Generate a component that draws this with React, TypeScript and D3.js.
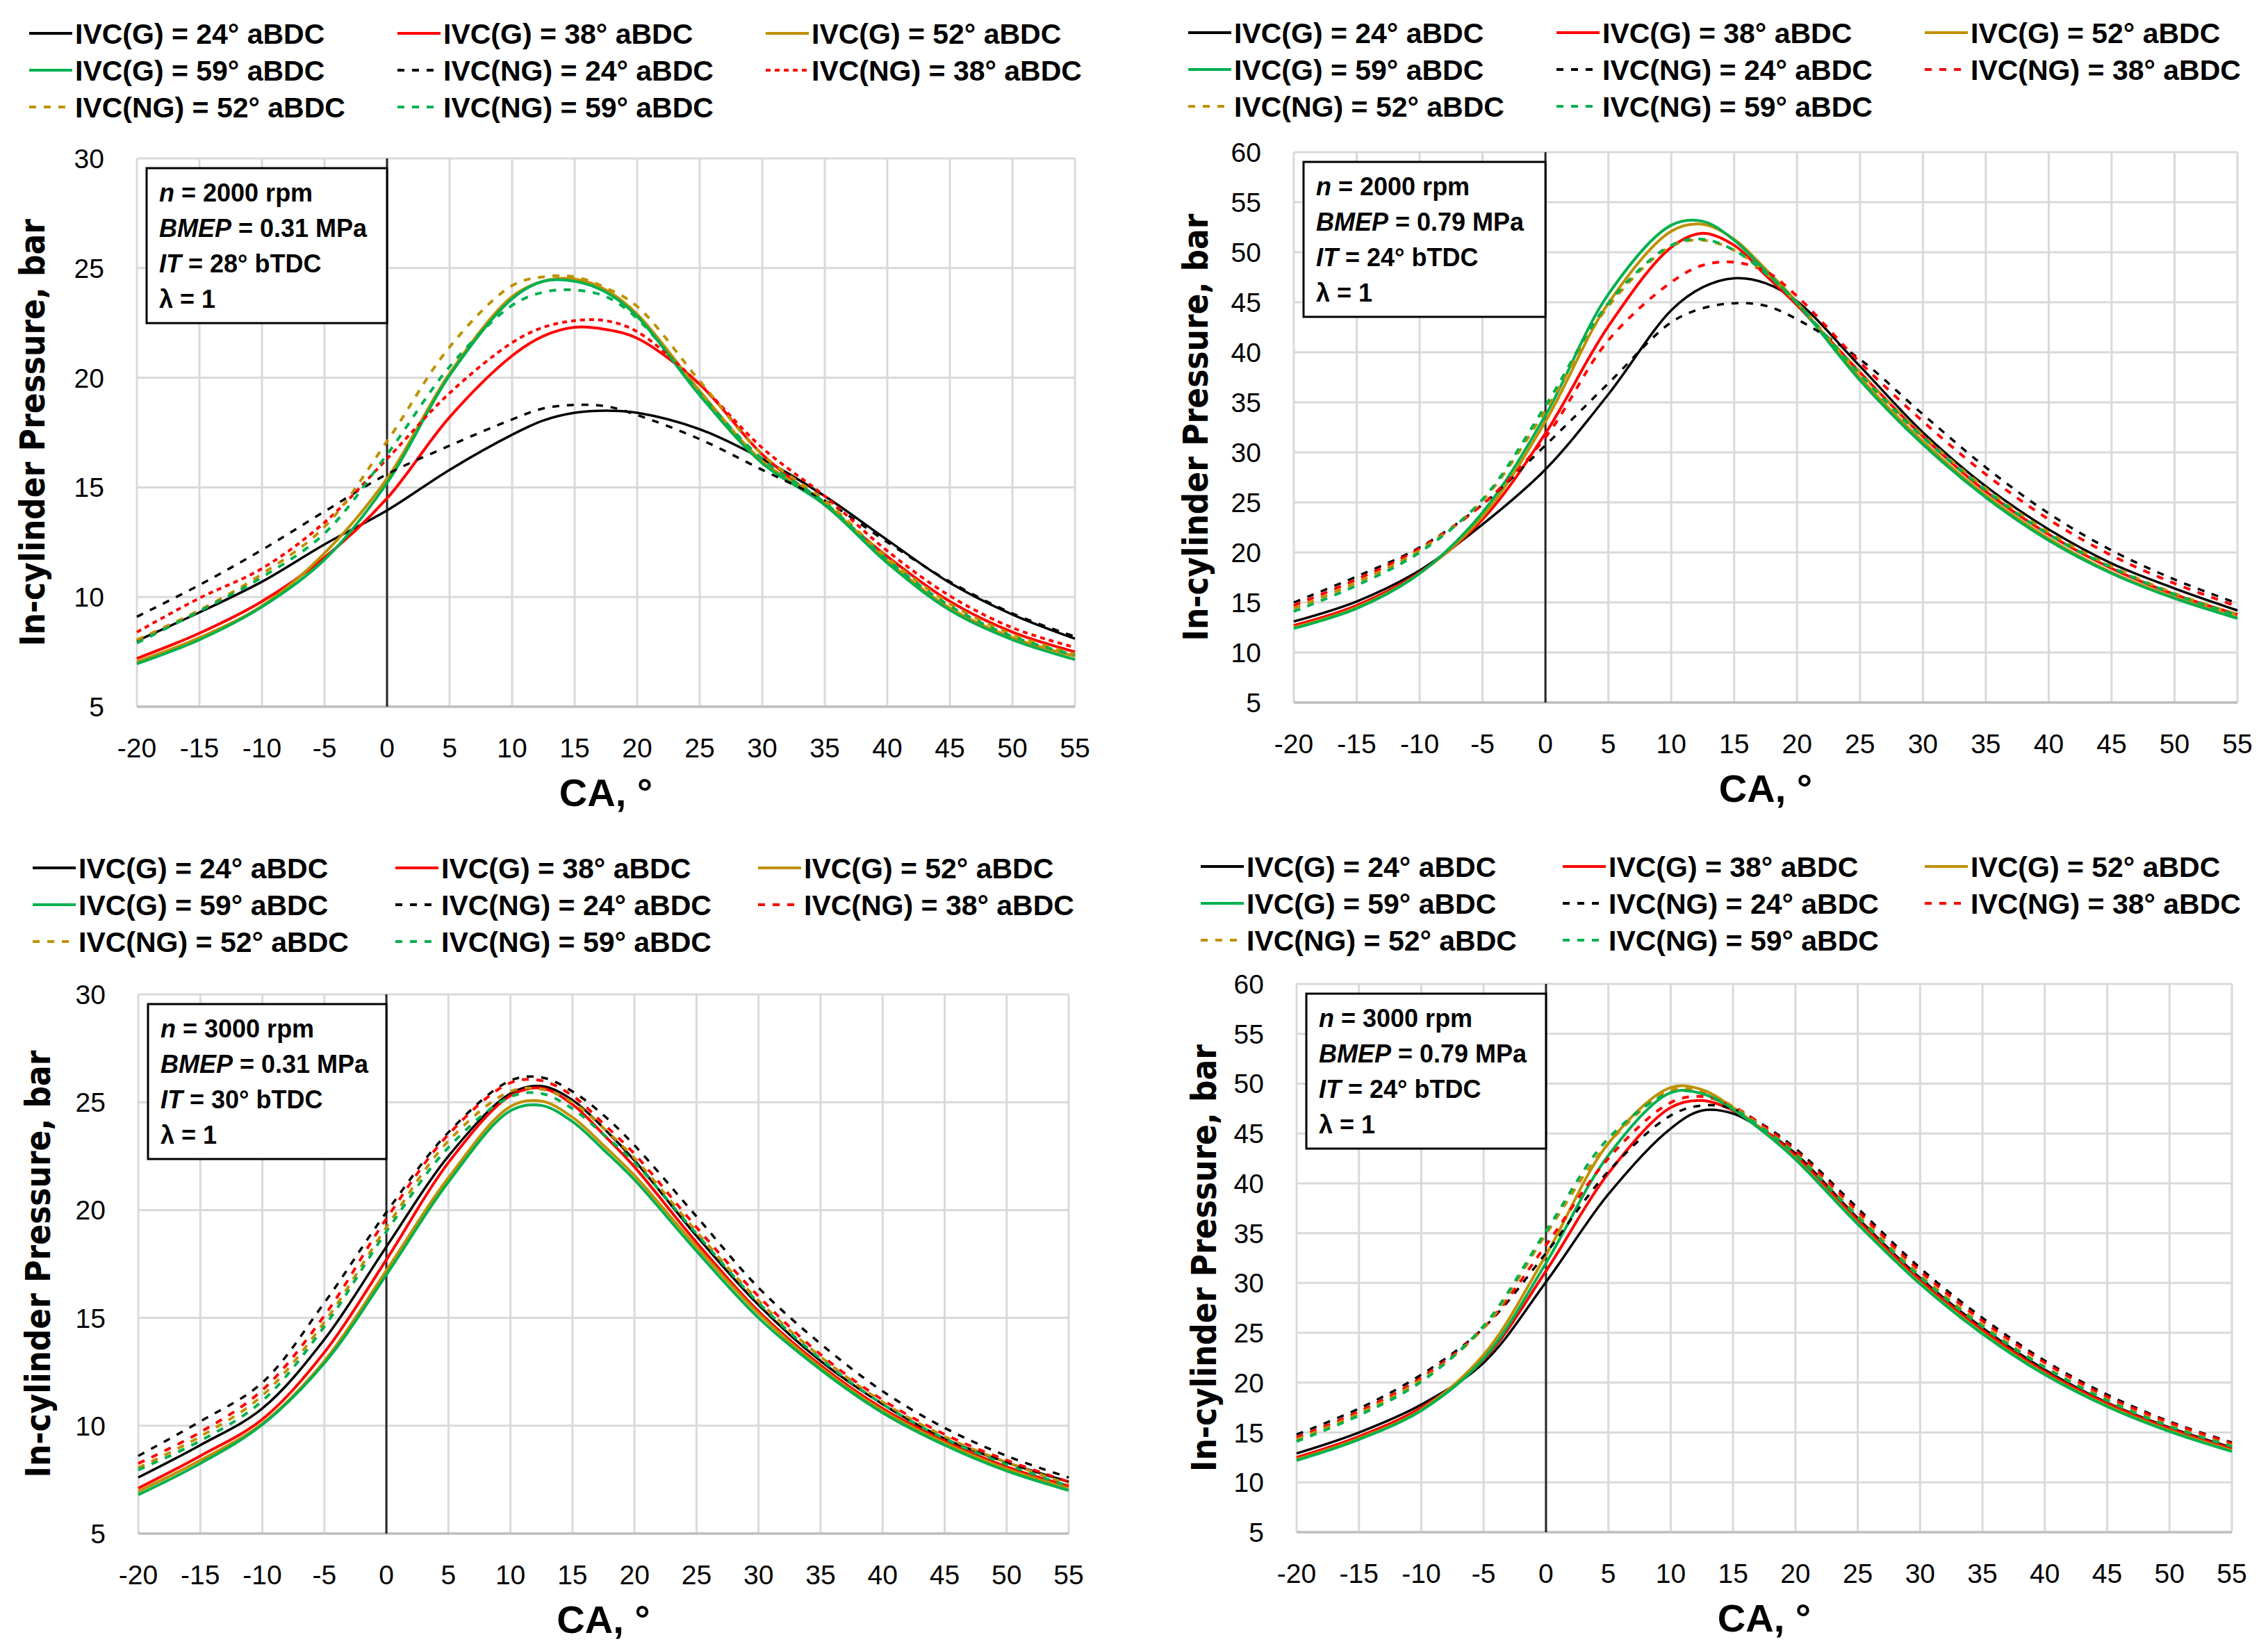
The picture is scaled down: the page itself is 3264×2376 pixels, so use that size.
import React from "react";
import * as d3 from "d3";

const W = 3264;
const H = 2376;

// crank angle samples, deg
const CA = [-20, -15, -10, -5, 0, 5, 10, 12.5, 15, 17.5, 20, 25, 30, 35, 40, 45, 50, 55];
const X_TICKS = d3.range(-20, 56, 5);
const Y_TICKS_30 = d3.range(5, 31, 5);
const Y_TICKS_60 = d3.range(5, 61, 5);

const SERIES_LABELS = [
  "IVC(G) = 24° aBDC",
  "IVC(G) = 38° aBDC",
  "IVC(G) = 52° aBDC",
  "IVC(G) = 59° aBDC",
  "IVC(NG) = 24° aBDC",
  "IVC(NG) = 38° aBDC",
  "IVC(NG) = 52° aBDC",
  "IVC(NG) = 59° aBDC",
];
const SERIES_COLORS = ["#000000", "#ff0000", "#bf9000", "#00b050", "#000000", "#ff0000", "#bf9000", "#00b050"];
const SERIES_DASHED = [false, false, false, false, true, true, true, true];

// n = 2000 rpm, BMEP = 0.31 MPa
const P1_G24 = [8.0, 9.3, 10.7, 12.4, 13.95, 15.8, 17.4, 18.05, 18.4, 18.5, 18.4, 17.65, 16.3, 14.6, 12.6, 10.65, 9.2, 8.1];
const P1_G38 = [7.2, 8.35, 9.8, 11.8, 14.5, 18.2, 21.0, 21.9, 22.3, 22.2, 21.8, 19.7, 16.5, 14.2, 11.85, 9.8, 8.4, 7.5];
const P1_G52 = [7.05, 8.15, 9.6, 12.0, 15.4, 20.2, 23.7, 24.4, 24.5, 24.0, 22.9, 19.4, 16.2, 14.3, 11.65, 9.5, 8.15, 7.3];
const P1_G59 = [6.95, 8.05, 9.55, 11.7, 15.2, 20.1, 23.6, 24.4, 24.4, 23.9, 22.8, 19.2, 16.1, 14.2, 11.55, 9.4, 8.05, 7.15];
const P1_NG24 = [9.1, 10.55, 12.15, 13.9, 15.6, 16.9, 18.1, 18.6, 18.76, 18.7, 18.3, 17.2, 15.8, 14.4, 12.5, 10.7, 9.25, 8.2];
const P1_NG38 = [8.4, 9.95, 11.3, 13.4, 16.3, 19.3, 21.6, 22.3, 22.6, 22.6, 22.1, 19.7, 16.8, 14.6, 12.1, 10.05, 8.6, 7.7];
const P1_NG52 = [8.05, 9.4, 11.05, 13.2, 17.1, 21.4, 24.2, 24.6, 24.6, 24.1, 23.25, 19.85, 16.5, 14.4, 11.8, 9.7, 8.3, 7.4];
const P1_NG59 = [7.9, 9.35, 10.9, 12.9, 16.5, 20.5, 23.3, 23.9, 24.0, 23.7, 22.7, 19.3, 16.3, 14.3, 11.7, 9.6, 8.2, 7.35];

// n = 2000 rpm, BMEP = 0.79 MPa
const P2_G24 = [13.1, 15.1, 18.2, 22.8, 28.3, 35.8, 44.2, 46.5, 47.4, 46.9, 45.1, 38.6, 32.0, 26.6, 22.3, 18.9, 16.4, 14.2];
const P2_G38 = [12.7, 14.7, 18.0, 23.3, 31.9, 42.6, 50.5, 51.9, 50.7, 47.7, 44.7, 38.0, 31.6, 26.1, 21.8, 18.4, 15.8, 13.8];
const P2_G52 = [12.5, 14.5, 17.9, 23.6, 33.1, 44.9, 52.1, 52.8, 51.3, 48.3, 45.0, 37.5, 31.1, 25.7, 21.4, 18.0, 15.5, 13.5];
const P2_G59 = [12.4, 14.4, 17.9, 24.0, 33.7, 45.8, 52.7, 53.1, 51.2, 48.1, 44.9, 37.2, 30.8, 25.5, 21.2, 17.9, 15.4, 13.4];
const P2_NG24 = [15.0, 17.6, 20.5, 24.8, 30.7, 36.9, 43.0, 44.4, 44.9, 44.65, 43.3, 39.3, 33.8, 28.5, 23.9, 20.2, 17.3, 14.9];
const P2_NG38 = [14.7, 17.3, 20.4, 24.8, 31.5, 41.2, 47.0, 48.7, 49.0, 48.1, 45.6, 39.0, 33.1, 27.8, 23.3, 19.7, 16.9, 14.6];
const P2_NG52 = [14.4, 17.0, 20.2, 25.2, 34.2, 44.6, 50.6, 51.2, 50.2, 47.9, 44.9, 38.0, 31.7, 26.4, 22.0, 18.6, 15.9, 13.8];
const P2_NG59 = [14.1, 16.7, 20.0, 25.3, 34.65, 44.9, 50.7, 51.3, 50.2, 47.9, 44.9, 37.8, 31.5, 26.2, 21.8, 18.5, 15.8, 13.7];

// n = 3000 rpm, BMEP = 0.31 MPa
const P3_G24 = [7.6, 9.1, 10.8, 14.0, 18.3, 22.5, 25.4, 25.75, 25.1, 23.8, 22.3, 18.8, 15.6, 13.0, 11.0, 9.4, 8.3, 7.4];
const P3_G38 = [7.1, 8.6, 10.3, 13.4, 17.7, 22.2, 25.3, 25.65, 24.9, 23.5, 22.0, 18.5, 15.3, 12.8, 10.8, 9.3, 8.1, 7.2];
const P3_G52 = [6.95, 8.4, 10.1, 13.0, 17.2, 21.5, 24.8, 25.05, 24.3, 23.0, 21.6, 18.3, 15.2, 12.7, 10.7, 9.2, 8.0, 7.1];
const P3_G59 = [6.8, 8.25, 10.05, 12.9, 17.0, 21.3, 24.6, 24.85, 24.1, 22.8, 21.4, 18.1, 15.0, 12.6, 10.6, 9.1, 7.9, 7.0];
const P3_NG24 = [8.6, 10.2, 12.0, 15.7, 19.9, 23.6, 26.0, 26.15, 25.5, 24.4, 23.0, 19.7, 16.4, 13.8, 11.6, 9.9, 8.6, 7.6];
const P3_NG38 = [8.25, 9.7, 11.65, 15.1, 19.6, 23.5, 25.9, 26.0, 25.3, 24.0, 22.6, 19.2, 16.0, 13.3, 11.2, 9.6, 8.4, 7.4];
const P3_NG52 = [8.05, 9.5, 11.4, 14.8, 19.2, 23.2, 25.5, 25.6, 25.0, 23.8, 22.4, 19.0, 15.8, 13.2, 11.1, 9.5, 8.3, 7.3];
const P3_NG59 = [7.95, 9.3, 11.15, 14.6, 19.0, 22.9, 25.25, 25.4, 24.7, 23.5, 22.2, 18.9, 15.7, 13.1, 11.0, 9.4, 8.2, 7.2];

// n = 3000 rpm, BMEP = 0.79 MPa
const P4_G24 = [12.9, 15.0, 17.8, 22.0, 30.1, 38.9, 45.5, 47.3, 47.0, 45.3, 43.0, 36.5, 30.5, 25.5, 21.3, 18.0, 15.5, 13.5];
const P4_G38 = [12.5, 14.6, 17.5, 22.3, 31.2, 41.0, 47.6, 48.3, 47.3, 45.3, 42.8, 36.3, 30.3, 25.3, 21.1, 17.9, 15.4, 13.4];
const P4_G52 = [12.3, 14.4, 17.3, 22.8, 32.8, 44.0, 49.6, 49.4, 47.6, 45.2, 42.5, 36.0, 30.0, 25.0, 20.9, 17.7, 15.2, 13.2];
const P4_G59 = [12.2, 14.3, 17.2, 22.4, 32.0, 42.8, 49.1, 49.0, 47.4, 45.1, 42.4, 35.9, 29.9, 24.9, 20.8, 17.6, 15.1, 13.1];
const P4_NG24 = [14.8, 17.4, 20.8, 25.5, 33.0, 41.2, 46.8, 47.8, 47.5, 45.8, 43.5, 37.5, 31.5, 26.5, 22.2, 18.8, 16.1, 14.0];
const P4_NG38 = [14.5, 17.1, 20.5, 25.5, 33.8, 42.5, 48.1, 48.7, 47.7, 45.7, 43.3, 37.2, 31.2, 26.2, 22.0, 18.6, 16.0, 13.9];
const P4_NG52 = [14.3, 16.9, 20.3, 25.5, 34.9, 44.0, 49.3, 49.2, 47.7, 45.5, 43.0, 36.8, 30.8, 25.8, 21.6, 18.3, 15.7, 13.7];
const P4_NG59 = [14.1, 16.7, 20.1, 25.7, 35.2, 44.5, 49.1, 49.0, 47.5, 45.4, 42.9, 36.6, 30.6, 25.6, 21.5, 18.2, 15.6, 13.6];

type InfoLine = { it: string; rest: string };

const INFO_1: InfoLine[] = [
  { it: "n", rest: " = 2000 rpm" },
  { it: "BMEP", rest: " = 0.31 MPa" },
  { it: "IT", rest: " = 28° bTDC" },
  { it: "", rest: "λ = 1" },
];
const INFO_2: InfoLine[] = [
  { it: "n", rest: " = 2000 rpm" },
  { it: "BMEP", rest: " = 0.79 MPa" },
  { it: "IT", rest: " = 24° bTDC" },
  { it: "", rest: "λ = 1" },
];
const INFO_3: InfoLine[] = [
  { it: "n", rest: " = 3000 rpm" },
  { it: "BMEP", rest: " = 0.31 MPa" },
  { it: "IT", rest: " = 30° bTDC" },
  { it: "", rest: "λ = 1" },
];
const INFO_4: InfoLine[] = [
  { it: "n", rest: " = 3000 rpm" },
  { it: "BMEP", rest: " = 0.79 MPa" },
  { it: "IT", rest: " = 24° bTDC" },
  { it: "", rest: "λ = 1" },
];

interface PanelCfg {
  x0: number;
  x1: number;
  yTop: number;
  yBot: number;
  yMax: number;
  yTicks: number[];
  legendX: number;
  legendY: number;
  colStep: number;
  titleX: number;
  info: InfoLine[];
  series: number[][];
  ng38Dash: string;
}

const PANELS: PanelCfg[] = [
  {
    x0: 197, x1: 1547, yTop: 228, yBot: 1017, yMax: 30, yTicks: Y_TICKS_30,
    legendX: 42, legendY: 48, colStep: 530, titleX: 64, info: INFO_1,
    series: [P1_G24, P1_G38, P1_G52, P1_G59, P1_NG24, P1_NG38, P1_NG52, P1_NG59],
    ng38Dash: "7,6",
  },
  {
    x0: 1862, x1: 3220, yTop: 219, yBot: 1011, yMax: 60, yTicks: Y_TICKS_60,
    legendX: 1710, legendY: 47, colStep: 530, titleX: 1738, info: INFO_2,
    series: [P2_G24, P2_G38, P2_G52, P2_G59, P2_NG24, P2_NG38, P2_NG52, P2_NG59],
    ng38Dash: "10,11",
  },
  {
    x0: 199, x1: 1538, yTop: 1431, yBot: 2207, yMax: 30, yTicks: Y_TICKS_30,
    legendX: 47, legendY: 1249, colStep: 522, titleX: 72, info: INFO_3,
    series: [P3_G24, P3_G38, P3_G52, P3_G59, P3_NG24, P3_NG38, P3_NG52, P3_NG59],
    ng38Dash: "10,11",
  },
  {
    x0: 1866, x1: 3212, yTop: 1416, yBot: 2205, yMax: 60, yTicks: Y_TICKS_60,
    legendX: 1728, legendY: 1247, colStep: 521, titleX: 1750, info: INFO_4,
    series: [P4_G24, P4_G38, P4_G52, P4_G59, P4_NG24, P4_NG38, P4_NG52, P4_NG59],
    ng38Dash: "10,11",
  },
];

const FONT = "'Liberation Sans', Arial, sans-serif";

function dashFor(i: number, cfg: PanelCfg) {
  if (!SERIES_DASHED[i]) return undefined;
  if (i === 5) return cfg.ng38Dash;
  return "10,11";
}

function Panel({ cfg }: { cfg: PanelCfg }) {
  const x = d3.scaleLinear().domain([-20, 55]).range([cfg.x0, cfg.x1]);
  const y = d3.scaleLinear().domain([5, cfg.yMax]).range([cfg.yBot, cfg.yTop]);
  const line = d3
    .line<number>()
    .x((_, i) => x(CA[i]))
    .y((d) => y(d))
    .curve(d3.curveCatmullRom.alpha(0.5));

  const boxLeft = cfg.x0 + 14;
  const boxTop = cfg.yTop + 14;
  const boxRight = x(0);
  const midY = (cfg.yTop + cfg.yBot) / 2;

  return (
    <g>
      {/* gridlines */}
      {X_TICKS.map((t) => (
        <line key={"gx" + t} x1={x(t)} x2={x(t)} y1={cfg.yTop} y2={cfg.yBot} stroke="#d9d9d9" strokeWidth={3} />
      ))}
      {cfg.yTicks.map((t) => (
        <line key={"gy" + t} x1={cfg.x0} x2={cfg.x1} y1={y(t)} y2={y(t)} stroke="#d9d9d9" strokeWidth={3} />
      ))}
      <line x1={cfg.x0} x2={cfg.x1} y1={cfg.yBot} y2={cfg.yBot} stroke="#bfbfbf" strokeWidth={3.5} />
      <line x1={x(0)} x2={x(0)} y1={cfg.yTop} y2={cfg.yBot} stroke="#262626" strokeWidth={3} />

      {/* tick labels */}
      {X_TICKS.map((t) => (
        <text key={"tx" + t} x={x(t)} y={cfg.yBot + 73} textAnchor="middle" fontFamily={FONT} fontSize={39} fill="#000">
          {t}
        </text>
      ))}
      {cfg.yTicks.map((t) => (
        <text key={"ty" + t} x={cfg.x0 - 47} y={y(t)} dy="0.36em" textAnchor="end" fontFamily={FONT} fontSize={39} fill="#000">
          {t}
        </text>
      ))}

      {/* axis titles */}
      <text
        x={(cfg.x0 + cfg.x1) / 2}
        y={cfg.yBot + 143}
        textAnchor="middle"
        fontFamily={FONT}
        fontWeight="bold"
        fontSize={56}
      >
        CA, °
      </text>
      <text
        transform={`translate(${cfg.titleX},${midY}) rotate(-90)`}
        textAnchor="middle"
        fontFamily="'DejaVu Sans', Verdana, sans-serif"
        fontWeight="bold"
        fontSize={50}
        textLength={615}
        lengthAdjust="spacingAndGlyphs"
      >
        In-cylinder Pressure, bar
      </text>

      {/* info box */}
      <rect x={boxLeft} y={boxTop} width={boxRight - boxLeft} height={223} fill="#fff" stroke="#000" strokeWidth={3} />
      {cfg.info.map((l, i) => (
        <text key={"inf" + i} x={boxLeft + 18} y={boxTop + 48 + i * 51} fontFamily={FONT} fontWeight="bold" fontSize={36}>
          {l.it && <tspan fontStyle="italic">{l.it}</tspan>}
          <tspan>{l.rest}</tspan>
        </text>
      ))}

      {/* curves */}
      {cfg.series.map((s, i) => (
        <path
          key={"s" + i}
          d={line(s) || ""}
          fill="none"
          stroke={SERIES_COLORS[i]}
          strokeWidth={i === 0 || i === 4 ? 3.5 : 4}
          strokeDasharray={dashFor(i, cfg)}
        />
      ))}

      {/* legend */}
      {SERIES_LABELS.map((lab, i) => {
        const lx = cfg.legendX + (i % 3) * cfg.colStep;
        const ly = cfg.legendY + Math.floor(i / 3) * 53;
        return (
          <g key={"lg" + i}>
            <line
              x1={lx}
              x2={lx + 62}
              y1={ly}
              y2={ly}
              stroke={SERIES_COLORS[i]}
              strokeWidth={4}
              strokeDasharray={dashFor(i, cfg)}
            />
            <text x={lx + 66} y={ly} dy="0.36em" fontFamily={FONT} fontWeight="bold" fontSize={41}>
              {lab}
            </text>
          </g>
        );
      })}
    </g>
  );
}

export default function App() {
  return (
    <svg
      width={W}
      height={H}
      viewBox={`0 0 ${W} ${H}`}
      style={{ position: "absolute", left: 0, top: 0, background: "#fff" }}
    >
      <rect x={0} y={0} width={W} height={H} fill="#fff" />
      {PANELS.map((p, i) => (
        <Panel key={i} cfg={p} />
      ))}
    </svg>
  );
}
